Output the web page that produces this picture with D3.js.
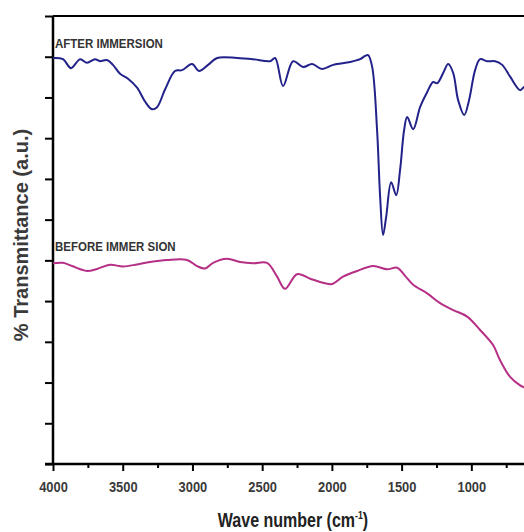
<!DOCTYPE html>
<html>
<head>
<meta charset="utf-8">
<script src="https://cdn.jsdelivr.net/npm/d3@7"></script>
<style>
  body { margin: 0; background: #fff; }
  svg { display: block; }
</style>
</head>
<body>
<div id="chart"></div>
<script>
var svgWidth = 524;
var svgHeight = 532;

// plot frame (the right edge runs off the picture)
var chartMargin = { top: 16, left: 53, bottom: 68 };
var chartHeight = svgHeight - chartMargin.top - chartMargin.bottom;

// wavenumbers (cm-1) and transmittance (a.u.)
var afterWave = [4000, 3928, 3871, 3806, 3756, 3699, 3663, 3613, 3570, 3519, 3462, 3397, 3340, 3290, 3254,
  3196, 3125, 3075, 3003, 2953, 2888, 2823, 2680, 2565, 2443, 2407, 2350, 2278, 2206, 2142, 2070, 1991,
  1869, 1798, 1762, 1740, 1711, 1676, 1654, 1633, 1611, 1575, 1539, 1511, 1482, 1460, 1417, 1367, 1317,
  1274, 1245, 1202, 1166, 1130, 1095, 1051, 1016, 973, 937, 887, 829, 779, 722, 650, 621, 590];
var afterT = [9.97, 9.94, 9.72, 9.94, 9.85, 9.94, 9.89, 9.92, 9.80, 9.58, 9.46, 9.24, 8.90, 8.71, 8.76,
  9.20, 9.65, 9.67, 9.82, 9.65, 9.80, 9.97, 9.97, 9.94, 9.89, 9.97, 9.28, 9.89, 9.75, 9.82, 9.70, 9.80,
  9.87, 9.94, 10.02, 10.04, 9.75, 8.20, 6.56, 5.62, 6.06, 6.92, 6.60, 7.22, 8.20, 8.52, 8.22, 8.77, 9.13,
  9.38, 9.35, 9.60, 9.82, 9.60, 8.94, 8.57, 8.94, 9.67, 9.94, 9.89, 9.89, 9.80, 9.51, 9.18, 9.26, 9.3];

var beforeWave = [4000, 3928, 3864, 3756, 3684, 3591, 3498, 3397, 3304, 3182, 3039, 2967, 2910, 2852,
  2752, 2658, 2565, 2465, 2393, 2336, 2250, 2156, 2085, 1998, 1920, 1819, 1704, 1604, 1532, 1475, 1417,
  1317, 1224, 1130, 1030, 937, 844, 793, 722, 650, 621, 590];
var beforeT = [4.93, 4.94, 4.86, 4.74, 4.79, 4.89, 4.85, 4.90, 4.96, 5.01, 5.01, 4.86, 4.80, 4.94,
  5.04, 4.96, 4.93, 4.94, 4.60, 4.30, 4.66, 4.55, 4.47, 4.42, 4.60, 4.74, 4.86, 4.78, 4.82, 4.62, 4.40,
  4.19, 3.95, 3.78, 3.62, 3.29, 2.92, 2.54, 2.14, 1.93, 1.88, 1.84];

var majorTicks = [4000, 3500, 3000, 2500, 2000, 1500, 1000];
var minorTicks = [3750, 3250, 2750, 2250, 1750, 1250, 750];
var yTicks = [0, 1, 2, 3, 4, 5, 6, 7, 8, 9, 10, 11];

var seriesNames = ["AFTER IMMERSION", "BEFORE IMMER SION"];
var seriesColors = ["#22228a", "#b52f85"];

var svg = d3.select("#chart")
  .append("svg")
  .attr("width", svgWidth)
  .attr("height", svgHeight);

var chartGroup = svg.append("g")
  .attr("transform", `translate(${chartMargin.left}, ${chartMargin.top})`);

// scales
var xScale = d3.scaleLinear()
  .domain([4000, 400])
  .range([0, 502]);

var yScale = d3.scaleLinear()
  .domain([0, 11])
  .range([chartHeight, 0]);

// frame top line
chartGroup.append("line")
  .attr("x1", 0).attr("x2", svgWidth)
  .attr("y1", 0).attr("y2", 0)
  .attr("stroke", "#000")
  .attr("stroke-width", 2);

// minor x ticks
chartGroup.append("g")
  .attr("transform", `translate(0, ${chartHeight})`)
  .call(d3.axisBottom(xScale).tickValues(minorTicks).tickSize(4).tickFormat(""))
  .call(g => g.select(".domain").remove())
  .selectAll("line").attr("stroke-width", 2);

// major x ticks
var xAxis = chartGroup.append("g")
  .attr("transform", `translate(0, ${chartHeight})`)
  .call(d3.axisBottom(xScale).tickValues(majorTicks).tickSize(7).tickFormat(d3.format("d")));
xAxis.select(".domain").remove();
xAxis.selectAll("line").attr("stroke-width", 2);
xAxis.selectAll("text")
  .attr("y", 28)
  .attr("dy", null)
  .attr("transform", "scale(0.86,1)")
  .attr("fill", "#3a3a3a")
  .style("font-family", "'Liberation Sans', Arial, sans-serif")
  .style("font-weight", "bold")
  .style("font-size", "15px");

chartGroup.append("line")
  .attr("x1", -8).attr("x2", svgWidth)
  .attr("y1", chartHeight).attr("y2", chartHeight)
  .attr("stroke", "#000")
  .attr("stroke-width", 2.5);

// y axis, ticks only
var yAxis = chartGroup.append("g")
  .call(d3.axisLeft(yScale).tickValues(yTicks).tickSize(8).tickFormat(""));
yAxis.select(".domain").remove();
yAxis.selectAll("line").attr("stroke-width", 2);

chartGroup.append("line")
  .attr("x1", 0).attr("x2", 0)
  .attr("y1", 0).attr("y2", chartHeight)
  .attr("stroke", "#000")
  .attr("stroke-width", 2.5);

// spectra
var line = d3.line()
  .x(d => xScale(d[0]))
  .y(d => yScale(d[1]))
  .curve(d3.curveCatmullRom.alpha(0.5));

var spectra = [d3.zip(afterWave, afterT), d3.zip(beforeWave, beforeT)];

chartGroup.selectAll(".spectrum")
  .data(spectra)
  .enter()
  .append("path")
  .attr("class", "spectrum")
  .attr("d", line)
  .attr("fill", "none")
  .attr("stroke", (d, i) => seriesColors[i])
  .attr("stroke-width", 2)
  .attr("stroke-linejoin", "round");

// curve labels
chartGroup.selectAll(".curveLabel")
  .data(seriesNames)
  .enter()
  .append("text")
  .attr("class", "curveLabel")
  .attr("transform", (d, i) => `translate(2, ${i === 0 ? 32 : 235}) scale(0.92,1)`)
  .attr("fill", "#333")
  .style("font-family", "'Liberation Sans', Arial, sans-serif")
  .style("font-weight", "bold")
  .style("font-size", "12.5px")
  .text(d => d);

// axis titles
svg.append("text")
  .attr("transform", "translate(28, 235) rotate(-90)")
  .attr("text-anchor", "middle")
  .attr("fill", "#3a3a3a")
  .style("font-family", "'Liberation Sans', Arial, sans-serif")
  .style("font-weight", "bold")
  .style("font-size", "20px")
  .text("% Transmittance (a.u.)");

var xTitle = svg.append("text")
  .attr("transform", "translate(293, 527) scale(0.8,1)")
  .attr("text-anchor", "middle")
  .attr("fill", "#222")
  .style("font-family", "'Liberation Sans', Arial, sans-serif")
  .style("font-weight", "bold")
  .style("font-size", "20px");
xTitle.append("tspan").text("Wave number (cm");
xTitle.append("tspan").attr("dy", -8).style("font-size", "11px").text("-1");
xTitle.append("tspan").attr("dy", 8).text(")");
</script>
</body>
</html>
